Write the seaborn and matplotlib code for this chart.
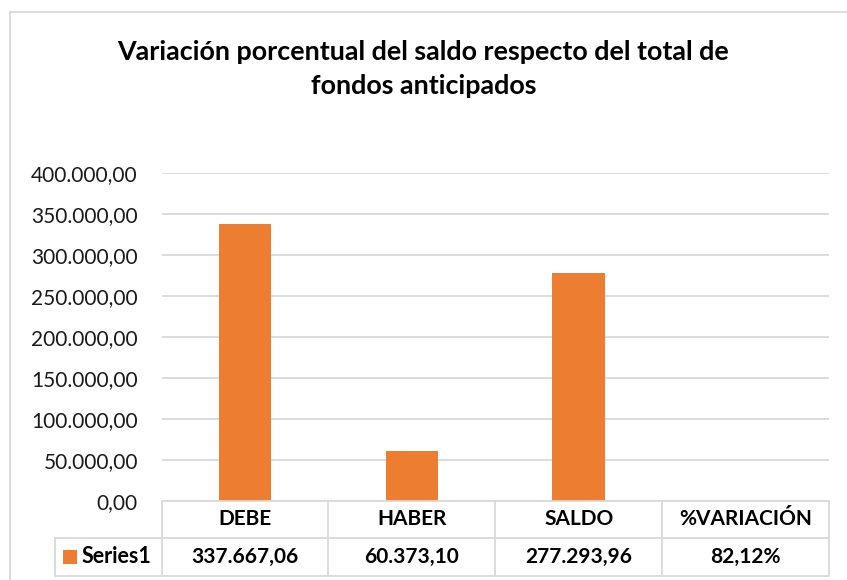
import matplotlib
matplotlib.use('Agg')
import matplotlib.pyplot as plt
import matplotlib.transforms as mtransforms
from matplotlib.patches import Rectangle
from matplotlib.ticker import FuncFormatter, MultipleLocator
import pandas as pd
import seaborn as sns

# Data
categories = ['DEBE', 'HABER', 'SALDO', '%VARIACIÓN']
values = [337667.06, 60373.10, 277293.96, 82.12]
series_name = 'Series1'
title_lines = ['Variación porcentual del saldo respecto del total de',
               'fondos anticipados']


def es_num(v):
    # 337667.06 -> 337.667,06
    return f'{v:,.2f}'.replace(',', 'X').replace('.', ',').replace('X', '.')


value_labels = [es_num(v) for v in values[:3]] + [es_num(values[3]) + '%']

ORANGE = '#ED7D31'
GRID = '#D9D9D9'
TEXT = '#1A1A1A'

sns.set_theme(style='white')
plt.rcParams['font.family'] = ['Lato', 'DejaVu Sans']

W, H = 847, 580
fig = plt.figure(figsize=(W / 100, H / 100), dpi=100)


def fx(px):
    return px / W


def fy(py):
    return 1 - py / H


# plot area in pixels: x 161.5..829, y 172.7..500.7
ax = fig.add_axes([fx(161.5), fy(500.7), fx(829) - fx(161.5), fy(172.7) - fy(500.7)])

df = pd.DataFrame({'categoria': categories, 'valor': values})
sns.barplot(data=df, x='categoria', y='valor', color=ORANGE, saturation=1,
            width=0.315, linewidth=0, ax=ax)

ax.set_xlim(-0.5, len(categories) - 0.5)
ax.set_ylim(0, 400000)
ax.yaxis.set_major_locator(MultipleLocator(50000))
ax.yaxis.set_major_formatter(FuncFormatter(lambda v, p: es_num(v)))
ax.yaxis.grid(True, color=GRID, linewidth=1.3)
ax.xaxis.grid(False)
ax.set_axisbelow(True)
for s in ax.spines.values():
    s.set_visible(False)
ax.set_xticks([])
ax.set_xlabel('')
ax.set_ylabel('')
ax.tick_params(axis='y', length=0, pad=17, labelsize=15, labelcolor=TEXT)

# data table under the plot
trans = mtransforms.blended_transform_factory(ax.transData, ax.transAxes)
rh = 37.5 / 328.0
col_w = 167.0
leg_left = -0.5 - (161.5 - 55) / col_w
n = len(categories)
line_kw = dict(color=GRID, linewidth=1.3, transform=trans, clip_on=False)

ax.plot([-0.5, n - 0.5], [0, 0], **line_kw)
ax.plot([leg_left, n - 0.5], [-rh, -rh], **line_kw)
ax.plot([leg_left, n - 0.5], [-2 * rh, -2 * rh], **line_kw)
for k in range(n + 1):
    ax.plot([k - 0.5, k - 0.5], [0, -2 * rh], **line_kw)
ax.plot([leg_left, leg_left], [-rh, -2 * rh], **line_kw)

for i, (cat, lab) in enumerate(zip(categories, value_labels)):
    ax.text(i, -rh / 2, cat, transform=trans, ha='center', va='center',
            fontsize=15, fontweight='bold', color='black')
    ax.text(i, -1.5 * rh, lab, transform=trans, ha='center', va='center',
            fontsize=15, fontweight='bold', color='black')

sq = 14.0
ax.add_patch(Rectangle((-0.5 - (161.5 - 63) / col_w, -1.5 * rh - sq / 2 / 328),
                       sq / col_w, sq / 328, transform=trans, clip_on=False,
                       facecolor=ORANGE, edgecolor='none'))
ax.text(-0.5 - (161.5 - 81) / col_w, -1.5 * rh, series_name, transform=trans,
        ha='left', va='center', fontsize=15.5, fontweight='bold', color='black')

# chart frame
fig.add_artist(Rectangle((fx(10), -0.1), 1.2, fy(12) + 0.1, transform=fig.transFigure,
                         fill=False, edgecolor=GRID, linewidth=1.3))

# title, two lines (baselines at ~59 px and ~93 px from the top)
for line, base in zip(title_lines, [59.5, 93.5]):
    fig.text(0.5, fy(base), line, ha='center', va='baseline', fontsize=19.4,
             fontweight='bold', color='black')

fig.savefig('out.png', dpi=100)
